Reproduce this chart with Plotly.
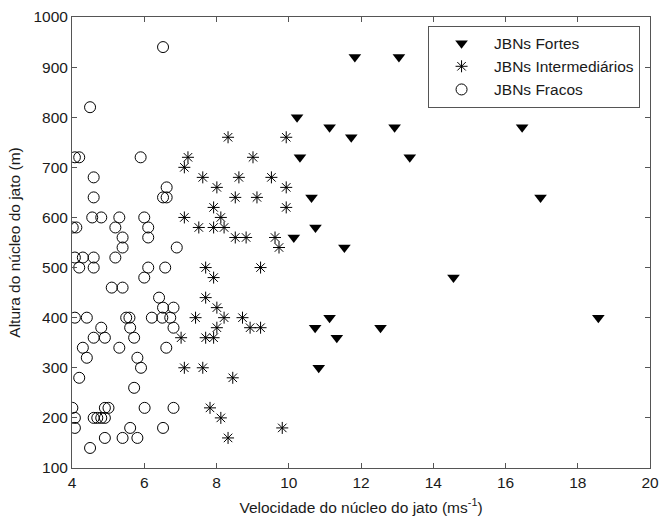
import plotly.graph_objects as go

# JBNs Fortes (triangles)
fortes_x = [11.83, 13.05, 10.23, 11.13, 12.93, 16.46, 11.73, 10.31, 13.35, 10.63, 16.97,
            10.74, 10.14, 11.54, 14.56, 11.13, 18.57, 10.73, 12.54, 11.33, 10.83]
fortes_y = [920, 920, 800, 780, 780, 780, 760, 720, 720, 640, 640,
            580, 560, 540, 480, 400, 400, 380, 380, 360, 300]

# JBNs Intermediários (asterisks)
inter_x = [8.32, 9.93, 7.21, 9.01, 7.11, 7.62, 8.62, 9.52, 8.01, 9.93, 8.52, 9.12, 7.92, 9.93,
           7.11, 8.12, 7.51, 7.92, 8.21, 8.52, 8.82, 9.62, 9.73, 7.70, 9.22, 7.92, 7.70,
           8.01, 7.42, 8.21, 8.72, 8.01, 8.93, 9.22, 7.02, 7.70, 7.92, 7.11, 7.62, 8.45,
           7.82, 8.12, 9.82, 8.32]
inter_y = [760, 760, 720, 720, 700, 680, 680, 680, 660, 660, 640, 640, 620, 620,
           600, 600, 580, 580, 580, 560, 560, 560, 540, 500, 500, 480, 440,
           420, 400, 400, 400, 380, 380, 380, 360, 360, 360, 300, 300, 280,
           220, 200, 180, 160]

# JBNs Fracos (open circles)
fracos_x = [6.52, 4.50, 4.08, 4.20, 5.90, 4.60, 6.62, 4.60, 6.52, 6.62, 4.56, 4.81, 5.31, 6.00,
            4.02, 4.12, 5.20, 6.11, 5.40, 6.11, 5.40, 6.90, 5.20, 4.08, 4.30, 4.60,
            4.20, 4.60, 6.11, 6.58, 6.00, 5.10, 5.40, 6.41, 6.52, 6.81,
            4.08, 4.41, 5.50, 5.59, 6.21, 6.50, 6.72, 4.81, 5.61, 6.81,
            4.60, 4.91, 5.72, 4.30, 5.31, 6.61, 4.41, 5.81, 5.91, 4.20, 5.72,
            4.01, 4.91, 5.01, 6.01, 6.81, 4.08, 4.60, 4.70, 4.81, 4.91,
            4.08, 5.61, 6.52, 4.91, 5.40, 5.81, 4.50]
fracos_y = [940, 820, 720, 720, 720, 680, 660, 640, 640, 640, 600, 600, 600, 600,
            580, 580, 580, 580, 560, 560, 540, 540, 520, 520, 520, 520,
            500, 500, 500, 500, 480, 460, 460, 440, 420, 420,
            400, 400, 400, 400, 400, 400, 400, 380, 380, 380,
            360, 360, 360, 340, 340, 340, 320, 320, 300, 280, 260,
            220, 220, 220, 220, 220, 200, 200, 200, 200, 200,
            180, 180, 180, 160, 160, 160, 140]

x_ticks = [4, 6, 8, 10, 12, 14, 16, 18, 20]
y_ticks = [100, 200, 300, 400, 500, 600, 700, 800, 900, 1000]

FONT = "Liberation Sans, Arial, sans-serif"
INK = "#1a1a1a"
FS = 15.5

fig = go.Figure()
fig.add_trace(go.Scatter(
    x=fortes_x, y=fortes_y, mode="markers", name="JBNs Fortes",
    marker=dict(symbol="triangle-down", size=11, color="black", line=dict(width=0))))
fig.add_trace(go.Scatter(
    x=inter_x, y=inter_y, mode="markers", name="JBNs Intermediários",
    marker=dict(symbol="asterisk-open", size=10, color="black", line=dict(width=1, color="black"))))
fig.add_trace(go.Scatter(
    x=fracos_x, y=fracos_y, mode="markers", name="JBNs Fracos",
    marker=dict(symbol="circle-open", size=11, color="black", line=dict(width=1, color="black"))))

axis_common = dict(showline=True, linecolor="#555555", linewidth=1, mirror="ticks",
                   ticks="inside", ticklen=5, tickcolor="#555555", showgrid=False,
                   zeroline=False, automargin=False,
                   tickfont=dict(family=FONT, size=FS, color=INK))

fig.update_xaxes(range=[4, 20], tickvals=x_ticks, ticktext=[str(v) for v in x_ticks],
                 title=dict(text="Velocidade do núcleo do jato (ms<sup>-1</sup>)",
                            font=dict(family=FONT, size=FS, color=INK), standoff=12),
                 **axis_common)
fig.update_yaxes(range=[100, 1000], tickvals=y_ticks, ticktext=[str(v) for v in y_ticks],
                 title=dict(text="Altura do núcleo do jato (m)",
                            font=dict(family=FONT, size=FS, color=INK), standoff=8),
                 **axis_common)

fig.update_layout(
    width=660, height=517,
    margin=dict(l=72, r=10, t=17, b=49),
    paper_bgcolor="white", plot_bgcolor="white",
    showlegend=True,
    legend=dict(x=0.616, y=0.981, xanchor="left", yanchor="top",
                bordercolor="#555555", borderwidth=1, bgcolor="white",
                font=dict(family=FONT, size=FS, color=INK),
                tracegroupgap=0, itemwidth=55),
)

fig.write_html("out.html")
